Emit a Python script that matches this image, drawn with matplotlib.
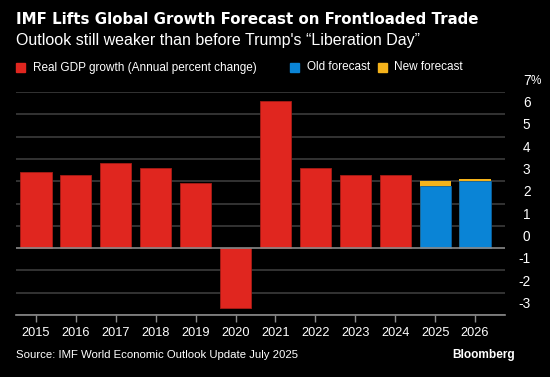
import matplotlib.pyplot as plt

# data (annual percent change)
years = ['2015', '2016', '2017', '2018', '2019', '2020', '2021',
         '2022', '2023', '2024', '2025', '2026']
gdp_growth = [3.4, 3.3, 3.8, 3.6, 2.9, -2.7, 6.6, 3.6, 3.3, 3.3, None, None]
old_forecast = [None] * 10 + [2.8, 3.0]
new_forecast = [None] * 10 + [3.0, 3.1]
y_ticks = [-3, -2, -1, 0, 1, 2, 3, 4, 5, 6, 7]

red = '#e0261f'
blue = '#0a84d6'
orange = '#f5b31b'
bg = '#000000'

plt.rcParams['font.family'] = ['Liberation Sans', 'DejaVu Sans']

fig = plt.figure(figsize=(5.5, 3.77), dpi=100, facecolor=bg)
ax = fig.add_axes([16 / 550, 1 - 315 / 377, 489 / 550, 223 / 377])
ax.set_facecolor(bg)

x = list(range(len(years)))
w = 0.78

# gridlines
for t in y_ticks:
    if t == 0:
        continue
    ax.axhline(t, color='#3c3c3c', lw=1.2, zorder=0)

# red bars (actuals)
xs = [i for i, v in zip(x, gdp_growth) if v is not None]
vs = [v for v in gdp_growth if v is not None]
ax.bar(xs, vs, width=w, color=red, edgecolor='#a81c16', linewidth=0.6, zorder=2)

# forecasts: orange new forecast behind, blue old forecast in front
xf = [i for i, v in zip(x, old_forecast) if v is not None]
newv = [v for v in new_forecast if v is not None]
oldv = [v for v in old_forecast if v is not None]
ax.bar(xf, newv, width=w, color=orange, linewidth=0, zorder=2)
ax.bar(xf, oldv, width=w, color=blue, edgecolor='#0a5f9c', linewidth=0.6, zorder=3)

ax.axhline(0, color='#8a8a8a', lw=1.2, zorder=4)

ax.set_xlim(-0.5, 11.75)
ax.set_ylim(-3, 7)
for s in ['top', 'right', 'left']:
    ax.spines[s].set_visible(False)
ax.spines['bottom'].set_color('#8a8a8a')
ax.spines['bottom'].set_linewidth(1.2)

ax.set_xticks(x)
ax.set_xticklabels(years, color='white', fontsize=9.2)
ax.tick_params(axis='x', colors='#8a8a8a', length=5, width=1, pad=4, labelcolor='white')
ax.set_yticks([])

# y labels on the right, sitting above each gridline
for t in y_ticks:
    ax.text(1.052, t + 0.5, str(t), transform=ax.get_yaxis_transform(),
            ha='right', va='center', color='white', fontsize=9.8)
ax.text(1.052, 7 + 0.5, '%', transform=ax.get_yaxis_transform(),
        ha='left', va='center', color='white', fontsize=8.5)

# titles
fig.text(16 / 550, 1 - 20 / 377, 'IMF Lifts Global Growth Forecast on Frontloaded Trade',
         family='DejaVu Sans', color='white', fontsize=10.8, fontweight='bold',
         va='center', ha='left')
fig.text(16 / 550, 1 - 41 / 377, 'Outlook still weaker than before Trump\'s \u201cLiberation Day\u201d',
         color='white', fontsize=11.5, va='center', ha='left')

# legend
legend_items = [('Real GDP growth (Annual percent change)', red, 16, 33),
                ('Old forecast', blue, 290, 307),
                ('New forecast', orange, 378, 394)]
for label, col, px, tx in legend_items:
    fig.patches.append(plt.Rectangle((px / 550, 1 - 72 / 377), 9 / 550, 9 / 377,
                                     transform=fig.transFigure, color=col))
    fig.text(tx / 550, 1 - 67.5 / 377, label, color='white', fontsize=8.5,
             va='center', ha='left')

fig.text(16 / 550, 1 - 355 / 377, 'Source: IMF World Economic Outlook Update July 2025',
         color='white', fontsize=8.2, va='center', ha='left')
fig.text(515 / 550, 1 - 355 / 377, 'Bloomberg', color='white', fontsize=8.6,
         fontweight='bold', va='center', ha='right')

fig.savefig('out.png', dpi=100, facecolor=bg)
